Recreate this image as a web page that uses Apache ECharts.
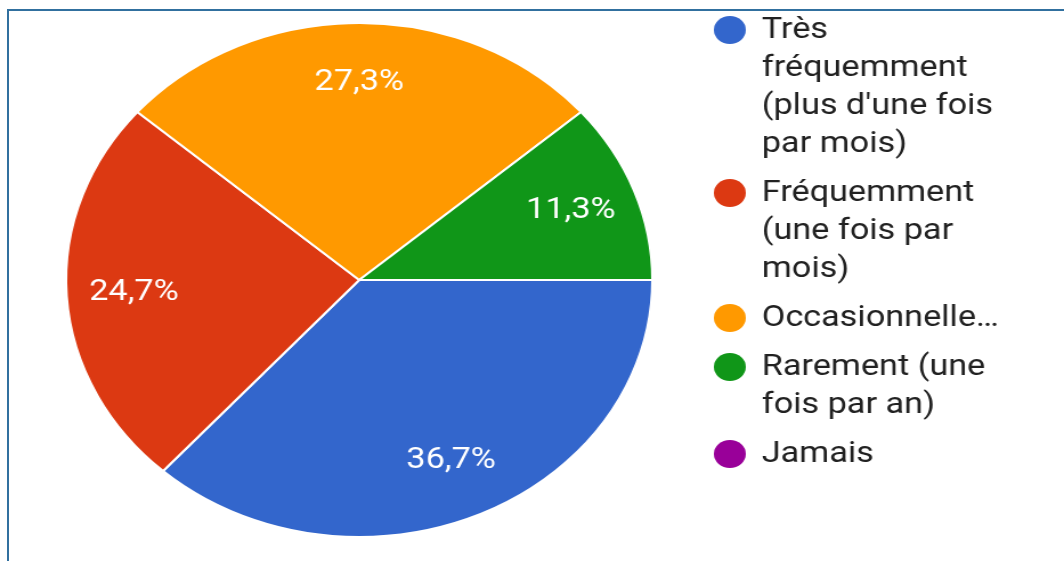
<!DOCTYPE html>
<html>
<head>
<meta charset="utf-8">
<title>Fréquence</title>
<script src="https://cdn.jsdelivr.net/npm/echarts@6/dist/echarts.min.js"></script>
<style>
html, body { margin: 0; padding: 0; background: #fff; overflow: hidden; }
#frame { position: absolute; left: 7px; top: 9px; width: 1100px; height: 600px;
  border-top: 2px solid #31709f; border-left: 2px solid #31709f; }
/* la capture d'origine est étirée horizontalement */
#chart { position: absolute; left: 0; top: 0; width: 933px; height: 561px;
  transform: scaleX(1.1404); transform-origin: 0 0; }
</style>
</head>
<body>
<div id="frame"></div>
<div id="chart"></div>
<script>
var categories = ["Très fréquemment (plus d'une fois par mois)", 'Fréquemment (une fois par mois)',
	'Occasionnellement', 'Rarement (une fois par an)', 'Jamais'];
var legendLines = [['Très', 'fréquemment', "(plus d'une fois", 'par mois)'],
	['Fréquemment', '(une fois par', 'mois)'],
	['Occasionnelle…'],
	['Rarement (une', 'fois par an)'],
	['Jamais']];
var counts = [55, 37, 41, 17, 0]; // 150 réponses
var colors = ['#3366cc', '#dc3912', '#ff9900', '#109618', '#990099'];

var chart = echarts.init(document.getElementById('chart'));
var LINE = 38;
var GAP = 11;

var pieData = categories.map(function(name, i) {
	return { name: name, value: counts[i] };
});
var labelData = categories.map(function(name, i) {
	return { name: name, value: counts[i], label: { show: counts[i] > 0 } };
});

// pastille ronde en haut d'une boîte haute de n lignes
// (le texte est centré sur la boîte, la pastille reste sur la 1re ligne)
function topDot(n) {
	var h = LINE * n;
	return 'path://M0,19A14,14,0,1,1,28,19A14,14,0,1,1,0,19Z' +
		'M14,0L14,0M14,' + h + 'L14,' + h;
}

var legends = [];
var c = 30;
categories.forEach(function(name, i) {
	var n = legendLines[i].length;
	legends.push({
		orient: 'vertical',
		left: 626,
		top: c - 19,
		padding: 0,
		itemWidth: 28,
		itemHeight: LINE * n,
		icon: topDot(n),
		itemStyle: { borderWidth: 0 },
		selectedMode: false,
		textStyle: { fontFamily: 'Roboto', fontSize: 30, lineHeight: LINE,
			color: '#212121', padding: [0, 0, 0, 9] },
		formatter: function(nm) {
			return legendLines[categories.indexOf(nm)].join('\n');
		},
		data: [{ name: name, itemStyle: { color: colors[i] } }]
	});
	c += LINE * n + GAP;
});

var option = {
	animation: false,
	color: colors,
	legend: legends,
	series: [{
		type: 'pie',
		center: [315, 280],
		radius: [0, 257],
		startAngle: 0,
		clockwise: true,
		percentPrecision: 1,
		itemStyle: { borderColor: '#fff', borderWidth: 2 },
		label: { show: false },
		labelLine: { show: false },
		emphasis: { disabled: true },
		data: pieData
	}, {
		// série transparente, seulement pour placer les pourcentages
		type: 'pie',
		center: [315, 280],
		radius: [0, 390],
		startAngle: 0,
		clockwise: true,
		silent: true,
		percentPrecision: 1,
		itemStyle: { color: 'transparent' },
		label: {
			position: 'inside',
			fontFamily: 'Roboto',
			fontSize: 30,
			color: '#fff',
			formatter: function(p) { return p.percent.toFixed(1).replace('.', ',') + '%'; }
		},
		labelLine: { show: false },
		emphasis: { disabled: true },
		data: labelData
	}]
};
chart.setOption(option);
</script>
</body>
</html>
